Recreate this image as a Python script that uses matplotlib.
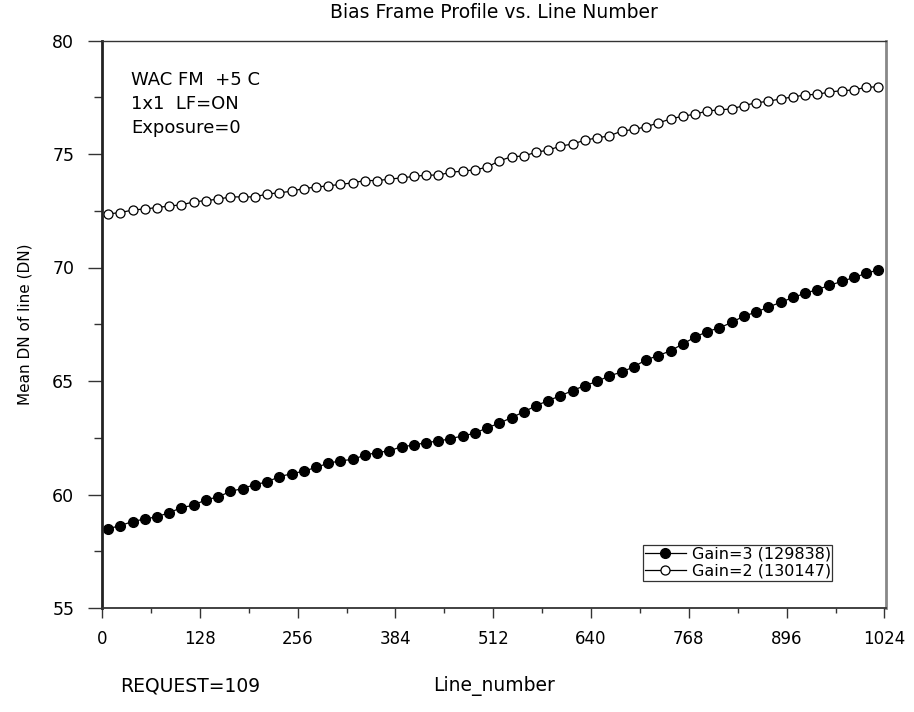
import numpy as np
import matplotlib
matplotlib.use("Agg")
import matplotlib.pyplot as plt
from matplotlib.ticker import MultipleLocator

# line numbers (one sample every 16 lines)
line_number = np.arange(8, 1024, 16)

# Gain=3 (filled circles)
gain3 = [58.49, 58.63, 58.81, 58.92, 59.02, 59.20, 59.42, 59.53, 59.77, 59.89,
         60.14, 60.26, 60.44, 60.55, 60.79, 60.91, 61.03, 61.19, 61.38, 61.48,
         61.55, 61.73, 61.85, 61.92, 62.11, 62.17, 62.29, 62.35, 62.46, 62.58,
         62.70, 62.94, 63.14, 63.39, 63.64, 63.91, 64.14, 64.35, 64.58, 64.80,
         64.98, 65.23, 65.39, 65.63, 65.93, 66.12, 66.33, 66.63, 66.93, 67.18,
         67.34, 67.58, 67.86, 68.03, 68.26, 68.46, 68.68, 68.86, 69.03, 69.21,
         69.39, 69.56, 69.74, 69.90]

# Gain=2 (open circles)
gain2 = [72.36, 72.42, 72.53, 72.58, 72.64, 72.71, 72.76, 72.89, 72.95, 73.01,
         73.11, 73.11, 73.11, 73.24, 73.29, 73.36, 73.48, 73.54, 73.60, 73.66,
         73.73, 73.83, 73.83, 73.89, 73.95, 74.01, 74.07, 74.07, 74.19, 74.25,
         74.30, 74.42, 74.70, 74.88, 74.91, 75.08, 75.17, 75.35, 75.44, 75.61,
         75.71, 75.80, 76.01, 76.08, 76.20, 76.37, 76.54, 76.67, 76.75, 76.90,
         76.94, 76.99, 77.13, 77.26, 77.32, 77.43, 77.51, 77.60, 77.63, 77.73,
         77.79, 77.82, 77.94, 77.96]

labels = ["Gain=3 (129838)", "Gain=2 (130147)"]
x_ticks = [0, 128, 256, 384, 512, 640, 768, 896, 1024]
y_ticks = [55, 60, 65, 70, 75, 80]
info_lines = ["WAC FM  +5 C", "1x1  LF=ON", "Exposure=0"]

fig = plt.figure(figsize=(9.14, 7.12), dpi=100)
ax = fig.add_axes([102 / 914, 1 - 608 / 712, 784 / 914, 567.5 / 712])

ax.plot(line_number, gain3, color="black", linewidth=0.9, marker="o",
        markersize=7, markerfacecolor="black", markeredgecolor="black",
        label=labels[0])
ax.plot(line_number, gain2, color="black", linewidth=0.9, marker="o",
        markersize=6.5, markerfacecolor="white", markeredgecolor="black",
        markeredgewidth=0.9, label=labels[1])

ax.set_xlim(0, 1026)
ax.set_ylim(55, 80)
ax.set_xticks(x_ticks)
ax.set_yticks(y_ticks)
ax.xaxis.set_minor_locator(MultipleLocator(64))
ax.yaxis.set_minor_locator(MultipleLocator(2.5))

ax.tick_params(axis="x", which="major", direction="out", length=7, width=1.0,
               color="#333333", labelsize=12, pad=9)
ax.tick_params(axis="x", which="minor", direction="out", length=3.5, width=1.0,
               color="#333333")
ax.tick_params(axis="y", which="major", direction="out", length=10, width=1.0,
               color="#333333", labelsize=12.5, pad=10)
ax.tick_params(axis="y", which="minor", direction="out", length=5.8, width=1.0,
               color="#333333")

ax.spines["left"].set_color("#222222")
ax.spines["left"].set_linewidth(2.0)
ax.spines["bottom"].set_color("#333333")
ax.spines["bottom"].set_linewidth(1.3)
ax.spines["top"].set_color("#333333")
ax.spines["top"].set_linewidth(1.0)
ax.spines["right"].set_color("#888888")
ax.spines["right"].set_linewidth(2.0)

ax.set_title("Bias Frame Profile vs. Line Number", fontsize=13.5, pad=16)
ax.set_ylabel("Mean DN of line (DN)", fontsize=11, labelpad=14)
fig.text(494 / 914, 1 - 686 / 712, "Line_number", fontsize=13.5,
         ha="center", va="center")
fig.text(120 / 914, 1 - 686 / 712, "REQUEST=109", fontsize=13.5,
         ha="left", va="center")

for i, txt in enumerate(info_lines):
    fig.text(131 / 914, 1 - (80 + 24 * i) / 712, txt, fontsize=13,
             ha="left", va="center")

leg = ax.legend(loc="upper left", bbox_to_anchor=(643 / 914, 1 - 545 / 712),
                bbox_transform=fig.transFigure, fontsize=11.5, frameon=True,
                fancybox=False, borderpad=0.1, borderaxespad=0,
                handlelength=2.6, handletextpad=0.35, labelspacing=0.15)
leg.get_frame().set_edgecolor("black")
leg.get_frame().set_linewidth(0.9)

fig.savefig("out.png", dpi=100)
